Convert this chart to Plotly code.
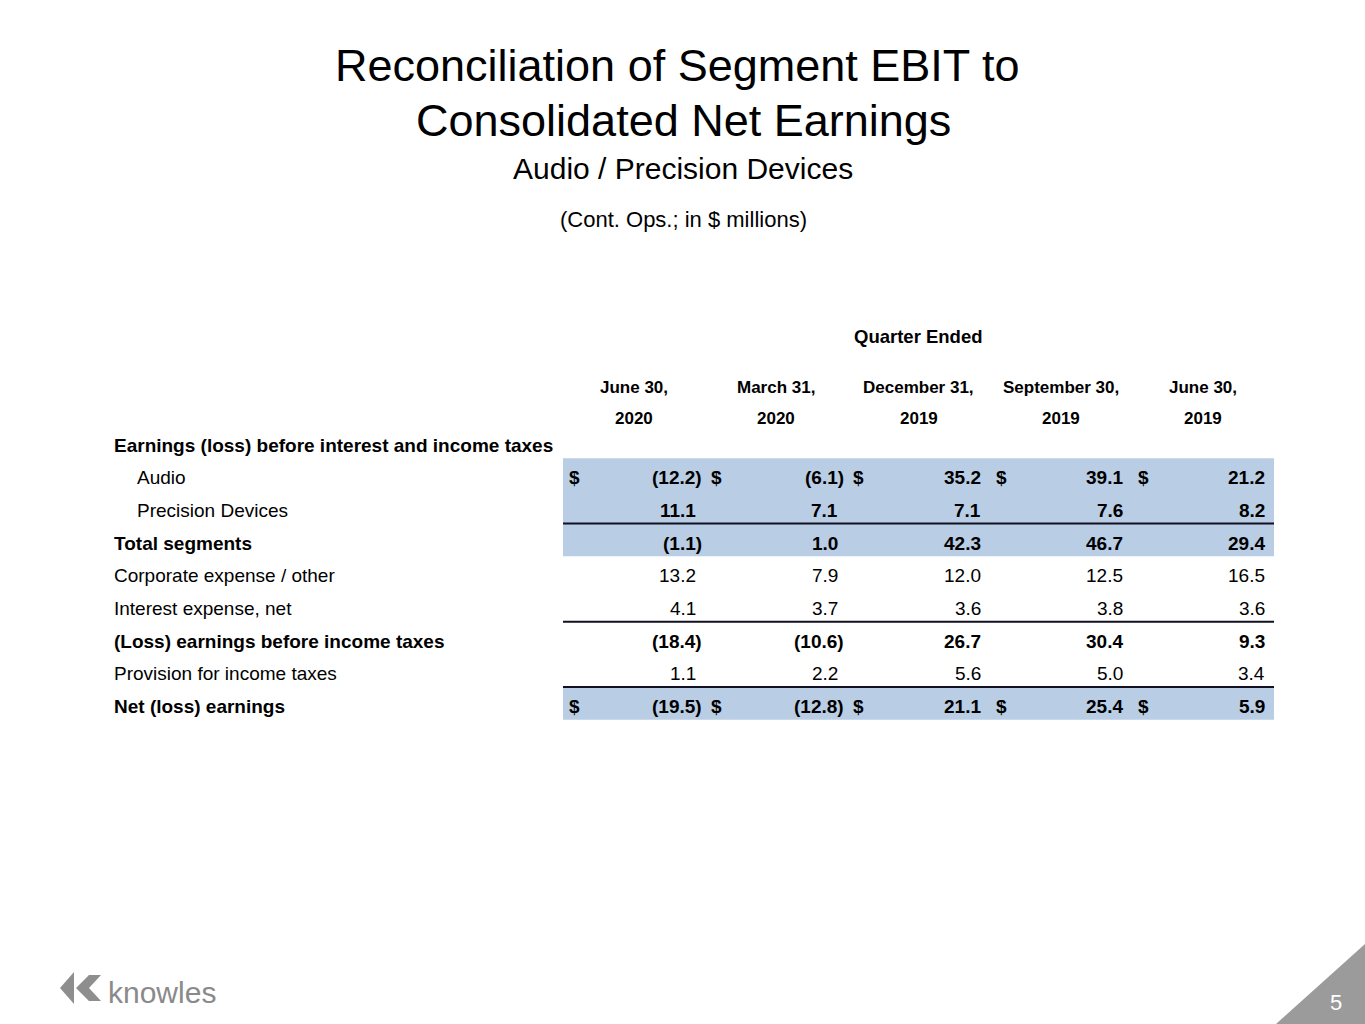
import plotly.graph_objects as go

# ---------------- data ----------------
title_lines = ["Reconciliation of Segment EBIT to", "Consolidated Net Earnings"]
subtitle = "Audio / Precision Devices"
units_note = "(Cont. Ops.; in $ millions)"
period_header = "Quarter Ended"
quarter_month = ["June 30,", "March 31,", "December 31,", "September 30,", "June 30,"]
quarter_year = ["2020", "2020", "2019", "2019", "2019"]

row_labels = [
    "Earnings (loss) before interest and income taxes",
    "Audio",
    "Precision Devices",
    "Total segments",
    "Corporate expense / other",
    "Interest expense, net",
    "(Loss) earnings before income taxes",
    "Provision for income taxes",
    "Net (loss) earnings",
]
audio = [-12.2, -6.1, 35.2, 39.1, 21.2]
precision_devices = [11.1, 7.1, 7.1, 7.6, 8.2]
total_segments = [-1.1, 1.0, 42.3, 46.7, 29.4]
corporate_other = [13.2, 7.9, 12.0, 12.5, 16.5]
interest_net = [4.1, 3.7, 3.6, 3.8, 3.6]
loss_before_tax = [-18.4, -10.6, 26.7, 30.4, 9.3]
provision_tax = [1.1, 2.2, 5.6, 5.0, 3.4]
net_earnings = [-19.5, -12.8, 21.1, 25.4, 5.9]
row_values = [None, audio, precision_devices, total_segments, corporate_other,
              interest_net, loss_before_tax, provision_tax, net_earnings]
page_number = "5"
logo_text = "knowles"

# ---------------- styling per row ----------------
label_bold = [True, False, False, True, False, False, True, False, True]
label_indent = [False, True, True, False, False, False, False, False, False]
value_bold = [False, True, True, True, False, False, True, False, True]
dollar_row = [False, True, False, False, False, False, False, False, True]
highlight_row = [False, True, True, True, False, False, False, False, True]
rule_above = [False, False, False, True, False, False, True, False, True]

FONT = "Liberation Sans, Arial, sans-serif"
W, H = 1365, 1024
BAND = "#B9CDE5"
table_left, table_right = 563, 1274
ncols = 5
col_w = (table_right - table_left) / ncols
label_x, indent_x = 113, 136
row0_y, row_h = 445, 32.7
paren_w = 6

fig = go.Figure()
ann = []
shapes = []


def add_text(x, y, text, size, bold=False, xanchor="center", color="#000000"):
    t = f"<b>{text}</b>" if bold else text
    ann.append(dict(x=x, y=y, xref="x", yref="y", text=t, showarrow=False,
                    xanchor=xanchor, yanchor="middle", borderpad=0,
                    font=dict(family=FONT, size=size, color=color)))


# titles
add_text(677, 65, title_lines[0], 45)
add_text(683, 120, title_lines[1], 45)
add_text(683, 168, subtitle, 30)
add_text(683, 219, units_note, 22)

# headers
col_centers = [table_left + col_w * (j + 0.5) for j in range(ncols)]
add_text(col_centers[2], 336, period_header, 18.5, bold=True)
for j in range(ncols):
    add_text(col_centers[j], 387, quarter_month[j], 17, bold=True)
    add_text(col_centers[j], 418, quarter_year[j], 17, bold=True)

# rows
for i, lab in enumerate(row_labels):
    yc = row0_y + row_h * i
    top = yc - 19.5
    bot = top + row_h
    if highlight_row[i]:
        shapes.append(dict(type="rect", xref="x", yref="y", x0=table_left, x1=table_right,
                           y0=top, y1=bot, fillcolor=BAND, line=dict(width=0), layer="below"))
    if rule_above[i]:
        shapes.append(dict(type="line", xref="x", yref="y", x0=table_left, x1=table_right,
                           y0=top, y1=top, line=dict(color="#111122", width=2)))
    add_text(indent_x if label_indent[i] else label_x, yc, lab, 19,
             bold=label_bold[i], xanchor="left")
    vals = row_values[i]
    if vals is None:
        continue
    for j, v in enumerate(vals):
        cell_l = table_left + col_w * j
        cell_r = cell_l + col_w
        txt = f"({abs(v):.1f})" if v < 0 else f"{v:.1f}"
        xr = cell_r - 8 + (paren_w if v < 0 else 0)
        add_text(xr, yc, txt, 19, bold=value_bold[i], xanchor="right")
        if dollar_row[i]:
            add_text(cell_l + 5, yc, "$", 19, bold=True, xanchor="left")

# corner triangle + page number
shapes.append(dict(type="path", xref="x", yref="y",
                   path=f"M {W} 944 L {W} {H} L 1276 {H} Z",
                   fillcolor="#9B9B9B", line=dict(width=0)))
add_text(1336, 1002, page_number, 22, color="#FFFFFF")

# logo
shapes.append(dict(type="path", xref="x", yref="y",
                   path="M 60 988 L 74 972 L 74 1004 Z",
                   fillcolor="#8E8E8E", line=dict(width=0)))
shapes.append(dict(type="path", xref="x", yref="y",
                   path="M 76 988 L 89 975 L 101 975 L 89 988 L 101 1001 L 89 1001 Z",
                   fillcolor="#8E8E8E", line=dict(width=0)))
add_text(107, 992, logo_text, 30, xanchor="left", color="#8A8A8A")

fig.update_layout(
    width=W, height=H,
    margin=dict(l=0, r=0, t=0, b=0),
    paper_bgcolor="#FFFFFF", plot_bgcolor="#FFFFFF",
    xaxis=dict(range=[0, W], visible=False, fixedrange=True),
    yaxis=dict(range=[H, 0], visible=False, fixedrange=True),
    annotations=ann, shapes=shapes, showlegend=False,
)

fig.write_html("out.html", config={"displayModeBar": False},
               post_script="document.body.style.margin='0';")
